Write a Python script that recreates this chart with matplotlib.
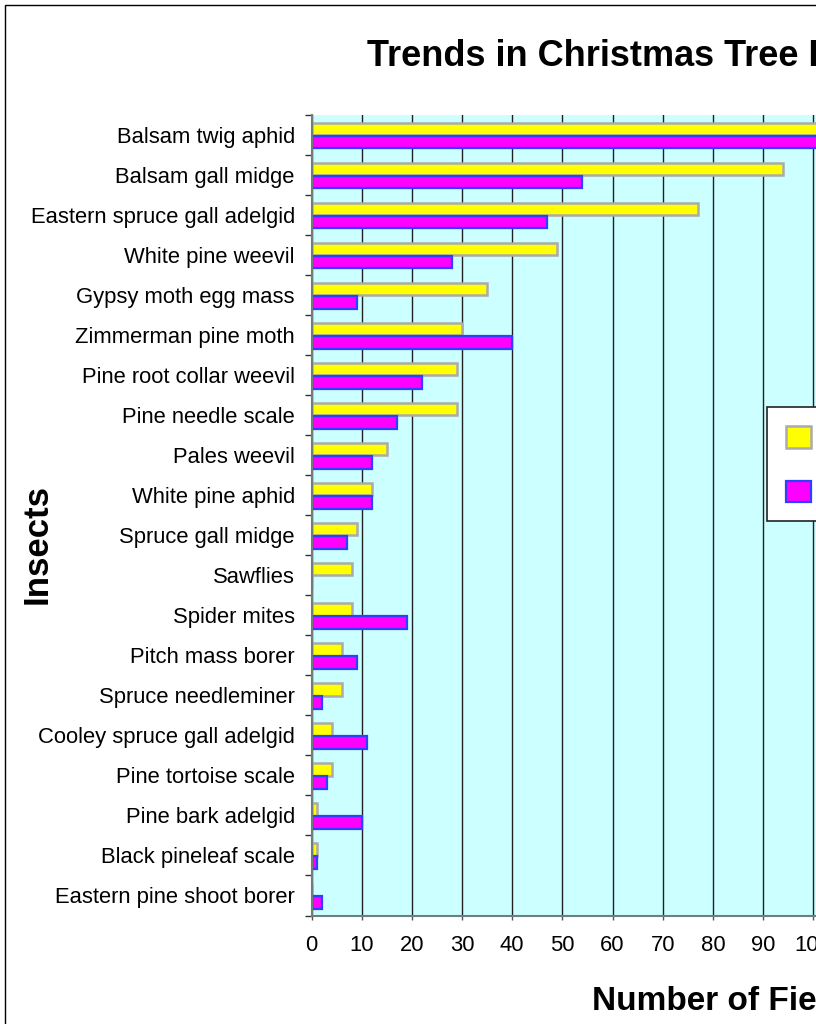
import matplotlib
matplotlib.use("Agg")
import matplotlib.pyplot as plt
from matplotlib.patches import Rectangle
import numpy as np

plt.rcParams['font.family'] = ['Liberation Sans', 'DejaVu Sans']

insects = [
    "Balsam twig aphid", "Balsam gall midge", "Eastern spruce gall adelgid",
    "White pine weevil", "Gypsy moth egg mass", "Zimmerman pine moth",
    "Pine root collar weevil", "Pine needle scale", "Pales weevil",
    "White pine aphid", "Spruce gall midge", "Sawflies", "Spider mites",
    "Pitch mass borer", "Spruce needleminer", "Cooley spruce gall adelgid",
    "Pine tortoise scale", "Pine bark adelgid", "Black pineleaf scale",
    "Eastern pine shoot borer",
]
series_names = ["Previous survey", "Current survey"]
previous = [125, 94, 77, 49, 35, 30, 29, 29, 15, 12, 9, 8, 8, 6, 6, 4, 4, 1, 1, 0]
current = [115, 54, 47, 28, 9, 40, 22, 17, 12, 12, 7, 0, 19, 9, 2, 11, 3, 10, 1, 2]
xticks = list(range(0, 150, 10))

W, H = 816, 1024
fig = plt.figure(figsize=(W / 100, H / 100), dpi=100)
fig.patch.set_facecolor('white')

# outer chart frame
fig.patches.append(Rectangle((5 / W, -0.05), 2.0, 1 - 5 / H + 0.05,
                             transform=fig.transFigure, fill=False,
                             edgecolor='black', linewidth=1.0, zorder=0))

xmax = 140
px_per_unit = 5.0175
left = 311.5
ax = fig.add_axes([left / W, 1 - 915.5 / H, xmax * px_per_unit / W, 800.5 / H])
ax.set_facecolor('#CCFFFF')

y = np.arange(len(insects))
h = 0.31
b1 = ax.barh(y - 0.15, previous, height=h, color='#FFFF00',
             edgecolor='#ABABAB', linewidth=1.8, zorder=3,
             label=series_names[0])
b2 = ax.barh(y + 0.18, current, height=h, color='#FF00FF',
             edgecolor='#2F3FFF', linewidth=1.6, zorder=3,
             label=series_names[1])

ax.set_xlim(0, xmax)
ax.set_ylim(len(insects) - 0.5, -0.5)
ax.set_xticks(xticks)
ax.set_xticklabels([str(t) for t in xticks])
ax.set_yticks(y)
ax.set_yticklabels(insects)
ax.set_yticks(np.arange(-0.5, len(insects), 1), minor=True)
ax.tick_params(axis='y', which='major', length=0, pad=12, labelsize=15.8)
ax.tick_params(axis='y', which='minor', length=5, width=1.0, direction='out',
               color='#333333')
ax.tick_params(axis='x', which='major', length=3, width=1.0, direction='out',
               color='#555555', pad=11, labelsize=15.8)

ax.grid(axis='x', color='#202020', linewidth=1.0, zorder=1)
ax.set_axisbelow(True)
for s in ['top', 'right']:
    ax.spines[s].set_visible(False)
for s in ['left', 'bottom']:
    ax.spines[s].set_color('#6E7E7E')
    ax.spines[s].set_linewidth(1.5)
    ax.spines[s].set_zorder(4)

# title and axis titles
fig.text(367 / W, 1 - 66.5 / H, "Trends in Christmas Tree Insect Pests",
         ha='left', va='baseline', fontsize=26, fontweight='bold')
fig.text(592 / W, 1 - 1010 / H, "Number of Fields",
         ha='left', va='baseline', fontsize=24, fontweight='bold')
fig.text(37.5 / W, 1 - 543.5 / H, "Insects", rotation=90,
         ha='center', va='center', fontsize=25, fontweight='bold')

leg = fig.legend(handles=[b1, b2], labels=series_names,
                 loc='upper left', bbox_to_anchor=(767 / W, 1 - 407 / H),
                 bbox_transform=fig.transFigure, borderaxespad=0,
                 fontsize=14, handlelength=1.25, handleheight=1.3,
                 labelspacing=1.7, borderpad=1.0, handletextpad=0.8,
                 fancybox=False, framealpha=1, edgecolor='#222222')
leg.get_frame().set_linewidth(1.2)

fig.savefig("out.png", dpi=100, facecolor='white')
